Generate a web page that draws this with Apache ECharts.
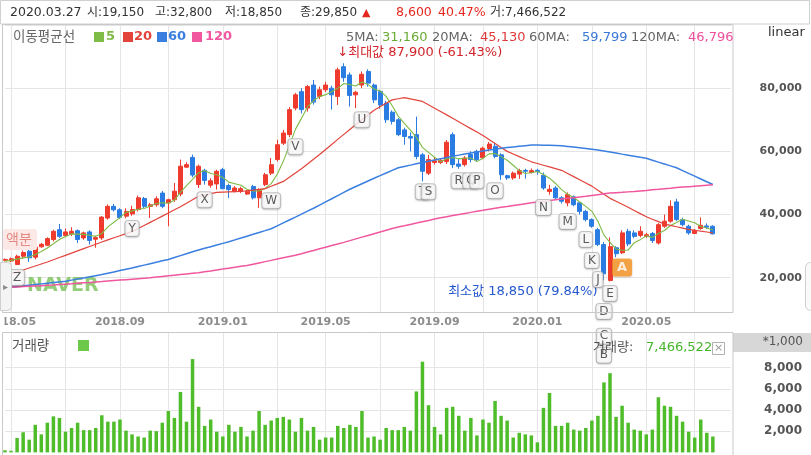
<!DOCTYPE html>
<html>
<head>
<meta charset="utf-8">
<title>NAVER 주봉</title>
<script src="https://cdn.jsdelivr.net/npm/echarts@6.0.0/dist/echarts.min.js"></script>
<style>
  html, body { margin: 0; padding: 0; background: #fff; }
  #main { width: 811px; height: 455px; }
</style>
</head>
<body>
<div id="main"></div>
<script>
// 주봉: 주 마지막 거래일
var dates = [
  '2018.04.27','2018.05.04','2018.05.11','2018.05.18','2018.05.25','2018.06.01','2018.06.08','2018.06.15','2018.06.22','2018.06.29',
  '2018.07.06','2018.07.13','2018.07.20','2018.07.27','2018.08.03','2018.08.10','2018.08.17','2018.08.24','2018.08.31','2018.09.07',
  '2018.09.14','2018.09.21','2018.09.28','2018.10.05','2018.10.12','2018.10.19','2018.10.26','2018.11.02','2018.11.09','2018.11.16',
  '2018.11.23','2018.11.30','2018.12.07','2018.12.14','2018.12.21','2018.12.28',
  '2019.01.04','2019.01.11','2019.01.18','2019.01.25','2019.02.01','2019.02.08','2019.02.15','2019.02.22','2019.02.28','2019.03.08',
  '2019.03.15','2019.03.22','2019.03.29','2019.04.05','2019.04.12','2019.04.19','2019.04.26','2019.05.03','2019.05.10','2019.05.17',
  '2019.05.24','2019.05.31','2019.06.07','2019.06.14','2019.06.21','2019.06.28','2019.07.05','2019.07.12','2019.07.19','2019.07.26',
  '2019.08.02','2019.08.09','2019.08.16','2019.08.23','2019.08.30','2019.09.06','2019.09.11','2019.09.20','2019.09.27','2019.10.04',
  '2019.10.11','2019.10.18','2019.10.25','2019.11.01','2019.11.08','2019.11.15','2019.11.22','2019.11.29','2019.12.06','2019.12.13',
  '2019.12.20','2019.12.27',
  '2020.01.03','2020.01.10','2020.01.17','2020.01.23','2020.01.31','2020.02.07','2020.02.14','2020.02.21','2020.02.28','2020.03.06',
  '2020.03.13','2020.03.20','2020.03.27','2020.04.03','2020.04.10','2020.04.17','2020.04.24','2020.04.29','2020.05.08','2020.05.15',
  '2020.05.22','2020.05.29','2020.06.05','2020.06.12','2020.06.19','2020.06.26','2020.07.03','2020.07.10','2020.07.17','2020.07.24'
];
var padDates = ['2020.07.31', '2020.08.07', '2020.08.14'];

var opens = [
  25500,25300,24200,26800,28400,26500,29800,30300,32100,35200,
  33400,33900,34900,32600,34500,32200,32600,38900,42600,41500,
  39500,40200,41600,45100,42600,43100,46800,43700,44700,46500,
  55000,58100,49500,54000,49300,49700,54200,49200,47400,47300,
  46500,48900,45300,49500,53100,57400,62600,65300,73700,78900,
  73700,81000,77400,79500,80000,77400,86800,84200,77900,81000,
  85300,81000,79000,75300,72400,70000,66800,64700,65300,58900,
  53100,56500,56500,56800,65300,56000,55800,59000,60000,58000,
  60900,61600,58900,52300,51600,52800,54000,53300,54000,52400,
  47300,48400,45300,43700,45600,43700,41000,38400,35200,30500,
  19150,29500,27900,34700,34200,33400,33100,34000,31000,36300,
  37900,44000,38400,36300,34000,35600,36400,36300
];
var closes = [
  25800,26000,26800,28000,26300,29700,30600,32400,34700,33100,
  34500,34700,32100,34200,31800,32700,39200,42600,41500,39100,
  41000,41600,45300,42600,43100,45000,42600,44700,47400,55300,
  55800,52500,55300,50800,50700,53700,48200,47900,48400,48200,
  47400,45300,47900,52600,55800,62100,65800,73200,77900,73200,
  80500,75600,79500,81000,77900,85800,83300,77700,78700,84400,
  81600,76300,74700,70000,69500,65300,64700,64200,58400,53700,
  57400,57000,57200,62900,55800,55300,57900,57400,57400,61000,
  62300,58400,52600,51600,53100,53900,53700,53900,53600,48400,
  48000,45300,44200,46300,43100,41000,38400,36300,30500,21250,
  29850,27600,34200,30700,33100,34700,33600,31800,36800,37900,
  42600,38400,36800,34200,35000,36600,36000,33900
];
var lows = [
  25200,24900,24000,26000,25000,25800,29500,30000,31500,32600,
  32800,33200,31000,32000,30500,29500,32000,38400,41000,38600,
  38800,39600,41000,42000,38900,42500,42000,36300,44000,45800,
  54800,51800,48400,49500,48500,47900,48000,45200,47000,46800,
  46200,44800,42100,49000,52500,56800,62000,64500,73000,72000,
  72600,74800,76500,78800,73200,74700,82000,74200,73700,80000,
  80500,75300,73500,69000,68500,64800,62100,60000,57500,50500,
  52500,55800,56000,56000,54700,54500,55200,56500,56800,57500,
  60000,57800,51000,51000,51000,51300,51400,53000,52600,47800,
  46300,44800,43500,42600,42600,40000,37800,35800,30000,19200,
  18850,26500,27500,30000,32500,32800,32600,31000,30500,35800,
  37400,38000,36300,33600,33900,35200,35500,33700
];
var highs = [
  26100,26400,27300,28600,28800,30000,31000,32800,35200,37000,
  35600,36000,35300,34600,35000,33300,39500,43200,43400,42000,
  42000,42800,46000,45600,43700,45800,47500,45000,50000,57400,
  56600,59000,55800,54500,51500,54200,54800,49800,49000,48800,
  47800,49400,48300,53200,57900,63700,66800,74000,78500,80000,
  81000,82600,80500,82000,80800,86500,87900,85000,79200,85300,
  86000,81500,79500,76000,73000,70500,67500,66000,71000,59500,
  58900,58100,57700,63600,66000,57600,58500,60000,60500,61500,
  63000,62700,59400,52600,53600,54500,54500,54600,54500,53300,
  49400,49000,45800,47000,46000,44000,41500,38800,35800,31300,
  32800,30000,35000,35500,35000,36300,34200,34500,37300,40000,
  44500,45000,39000,36800,35400,39100,37200,36600
];
// 거래량 (단위: 1,000주)
var volumes = [
  200,150,1360,1900,1200,2600,1700,2800,3400,3250,
  1950,2300,2800,2100,2100,2300,3500,2900,2900,3100,
  2050,1700,1500,1400,2050,2000,2800,3900,3250,5700,
  2900,8800,4300,2500,3100,1950,1500,2600,1950,2400,
  1500,2050,3900,2600,3000,3250,3350,3100,1950,3250,
  2050,2400,1200,1400,1400,2500,2300,2600,2400,3900,
  1400,1500,1200,2300,2100,2100,2400,2050,5750,8550,
  4450,2400,1700,4200,4300,3450,2050,3250,1600,3100,
  2800,4850,3450,3000,1400,1850,1700,1600,950,4200,
  5600,2500,2500,2800,2150,2050,2300,3000,3450,6600,
  7466.522,3350,4400,2800,2150,2050,1700,2150,5200,4400,
  4300,3450,2900,1950,1400,3100,1850,1500
];
var ma5 = [
  25200,25500,25900,26300,26580,27360,28280,29400,30740,32100,
  33060,33880,33820,33720,33460,33100,34000,36100,37560,39020,
  40680,41160,41700,41920,42720,43520,43720,43600,44560,47000,
  49160,51140,53260,53940,53020,52600,51740,50260,49780,49280,
  48020,47440,47440,48280,49800,52740,56840,61900,66960,70440,
  74120,76080,77340,77960,78900,79960,81500,81140,80680,81980,
  81140,79740,79140,77400,74420,71160,68840,66740,64420,61260,
  59680,58140,56740,57640,58060,57640,57820,57860,56760,57800,
  59200,59300,58340,57180,55600,53920,52980,53240,53640,52700,
  51520,49840,47900,46440,45380,43980,42600,41020,37860,33490,
  31160,29100,28680,28720,31090,32060,33260,32780,34000,34960,
  36540,37500,38500,37980,37400,36200,35720,35140
];
var ma20 = [
  20800,21300,21800,22440,23080,23720,24360,25000,25700,26400,
  27100,27800,28500,29200,29900,30600,31300,32000,32650,33300,
  33950,34600,35580,36550,37530,38500,39500,40500,41500,42500,
  43600,44700,45800,46200,46600,47000,47080,47150,47230,47300,
  47530,47750,47980,48200,48970,49730,50500,51830,53170,54500,
  56000,57500,59000,60600,62200,63800,65370,66930,68500,70000,
  71500,73000,74100,75200,76300,76650,77000,76600,76200,75800,
  74740,73680,72620,71560,70500,69400,68300,67200,66100,65000,
  63750,62500,61250,60000,59180,58350,57530,56700,56160,55620,
  55080,54540,54000,53000,52000,51000,50000,49000,47710,46420,
  45130,44190,43240,42300,41300,40300,39300,38530,37770,37000,
  36580,36150,35730,35300,35030,34750,34480,34200
];
var ma60 = [
  16800,17010,17220,17430,17640,17850,18060,18270,18480,18690,
  18900,19250,19600,19950,20300,20650,21000,21420,21840,22260,
  22680,23100,23550,24000,24450,24900,25350,25800,26400,27000,
  27600,28200,28800,29320,29840,30360,30880,31400,31990,32570,
  33160,33740,34330,34910,35500,36430,37360,38290,39210,40140,
  41070,42000,43000,44000,45000,46000,47000,48000,48880,49750,
  50630,51500,52330,53150,53980,54800,55230,55650,56080,56500,
  56890,57270,57660,58040,58430,58810,59200,59500,59800,60100,
  60400,60700,61000,61200,61400,61600,61800,62000,62000,61950,
  61900,61850,61800,61580,61360,61140,60920,60700,60400,60100,
  59799,59470,59130,58800,58470,58130,57800,57200,56600,56000,
  55400,54800,53920,53030,52150,51270,50380,49500
];
var ma120 = [
  16900,17000,17100,17200,17300,17400,17500,17600,17700,17840,
  17980,18110,18250,18390,18520,18660,18800,18950,19100,19250,
  19400,19550,19700,19850,20000,20200,20400,20600,20800,21000,
  21200,21400,21600,21890,22170,22460,22740,23030,23320,23610,
  23900,24300,24700,25100,25500,25900,26300,26700,27100,27610,
  28130,28640,29150,29660,30180,30690,31200,31750,32300,32850,
  33400,33950,34500,35050,35600,36030,36450,36880,37300,37730,
  38150,38580,39000,39340,39680,40010,40350,40690,41030,41360,
  41700,41990,42280,42560,42850,43140,43430,43710,44000,44230,
  44450,44680,44900,45130,45350,45580,45800,46050,46300,46550,
  46796,46930,47050,47180,47300,47480,47650,47830,48000,48180,
  48350,48530,48700,48840,48980,49120,49260,49400
];
// 이벤트 표시 (주 번호, 세로 위치 가격, 글자)
var markerIdx   = [2, 21, 33, 44, 48, 59, 69, 70, 75, 77, 78, 81, 89, 93, 96, 97, 98, 100, 99, 99, 99, 102];
var markerPrice = [20090, 35570, 44700, 44400, 61450, 70000, 47250, 47250, 50700, 50700, 50700, 47570,
                   42200, 37780, 32090, 25460, 19460, 15040, 9350, 1460, -4540, 23250];
var markerText  = ['Z','Y','X','W','V','U','T','S','R','Q','P','O','N','M','L','K','J','E','D','C','B','A'];

var focusDate = '2020.03.27';

var FONT = '"DejaVu Sans", "Noto Sans CJK KR", sans-serif';
var GRID_C = '#e5e5e5';

function fmt(n) {
  return Math.round(n).toString().replace(/\B(?=(\d{3})+(?!\d))/g, ',');
}
function txt(x, y, s, color, size, weight, align, z) {
  return {
    type: 'text', x: x, y: y, z: z || 100, silent: true,
    style: {
      text: s, fill: color, font: (weight || 'normal') + ' ' + size + 'px ' + FONT,
      textAlign: align || 'left', textVerticalAlign: 'middle',
      align: align || 'left', verticalAlign: 'middle'
    }
  };
}
function box(x, y, w, h, fill, stroke, z, r) {
  return {
    type: 'rect', z: z || 50, silent: true,
    shape: { x: x, y: y, width: w, height: h, r: r || 0 },
    style: { fill: fill, stroke: stroke, lineWidth: 1 }
  };
}

var allDates = dates.concat(padDates);
var candleData = dates.map(function (d, i) { return [opens[i], closes[i], lows[i], highs[i]]; });

function isMonthStart(i) {
  return i > 0 && allDates[i].slice(0, 7) !== allDates[i - 1].slice(0, 7);
}
function monthOf(i) { return +allDates[i].slice(5, 7); }
function gridInterval(i) { return isMonthStart(i) && monthOf(i) % 2 === 1; }
function labelInterval(i) { return isMonthStart(i) && (monthOf(i) - 1) % 4 === 0; }

var f = dates.indexOf(focusDate);
var last = dates.length - 1;
var maxHigh = Math.max.apply(null, highs), maxIdx = highs.indexOf(maxHigh);
var minLow = Math.min.apply(null, lows), minIdx = lows.indexOf(minLow);
var chg = closes[f] - closes[f - 1];
var chgPct = (chg / closes[f - 1] * 100).toFixed(2);
var maxPct = ((closes[last] - maxHigh) / maxHigh * 100).toFixed(2);
var minPct = ((closes[last] - minLow) / minLow * 100).toFixed(2);

var C5 = '#7fbb47', C20 = '#e2433a', C60 = '#3a7fe0', C120 = '#f0579f';
var UP = '#ee3b2d', DOWN = '#2b7ce2', VOL = '#4fbd2a';

var graphics = [
  // 틀
  box(0.5, 0.5, 809, 23.5, '#fff', '#d0d0d0', 1),
  box(2.5, 24.5, 730.5, 288, 'rgba(0,0,0,0)', '#c9c9c9', 50),
  box(2.5, 332.5, 730.5, 124, 'rgba(0,0,0,0)', '#c9c9c9', 50),
  box(0, 313, 4.5, 19, '#fff', null, 60),
  // 좌우 탭
  box(0.5, 262.5, 11, 48, '#f4f4f4', '#cfcfcf', 55, [0, 4, 4, 0]),
  txt(3, 287, '▸', '#8a8a8a', 10, 'normal', 'left', 56),
  box(805.5, 262.5, 12, 48, '#fafafa', '#cfcfcf', 55, 5),
  // 머리줄
  txt(10, 13, focusDate, '#333', 12.5),
  txt(87, 13, '시:' + fmt(opens[f]), '#333', 12),
  txt(155, 13, '고:' + fmt(highs[f]), '#333', 12),
  txt(225, 13, '저:' + fmt(lows[f]), '#333', 12),
  txt(300, 13, '종:' + fmt(closes[f]), '#333', 12),
  txt(362, 13, '▲', '#e5281e', 11),
  txt(396, 13, fmt(chg), '#e5281e', 12.5),
  txt(438, 13, chgPct + '%', '#e5281e', 12.5),
  txt(490, 13, '거:' + fmt(volumes[f] * 1000), '#333', 12),
  // 이동평균선 범례
  txt(13, 37, '이동평균선', '#666', 13.5),
  box(94, 32, 10, 10, C5, null, 100),
  txt(106, 37, '5', C5, 13, 'bold'),
  box(123, 32, 10, 10, C20, null, 100),
  txt(134, 37, '20', C20, 13, 'bold'),
  box(157, 32, 10, 10, C60, null, 100),
  txt(168, 37, '60', C60, 13, 'bold'),
  box(192, 32, 10, 10, C120, null, 100),
  txt(205, 37, '120', C120, 13, 'bold'),
  txt(346, 38, '5MA:', '#666', 13),
  txt(382, 38, fmt(ma5[f]), '#6aab35', 13),
  txt(432, 38, '20MA:', '#666', 13),
  txt(480, 38, fmt(ma20[f]), '#df3a3a', 13),
  txt(529, 38, '60MA:', '#666', 13),
  txt(582, 38, fmt(ma60[f]), '#3a78d8', 13),
  txt(631, 38, '120MA:', '#666', 13),
  txt(688, 38, fmt(ma120[f]), '#ef4f9a', 13),
  txt(768, 33, 'linear', '#333', 13),
  // 액분 / 워터마크
  box(3, 229, 34, 21, '#fce9e7', null, 40, 2),
  txt(6, 240, '액분', '#e48a82', 14, 'normal', 'left', 41),
  txt(27, 286, 'NAVER', 'rgba(112,190,78,0.75)', 19, 'bold', 'left', 1),
  // 거래량 패널
  txt(12, 346, '거래량', '#555', 13.5),
  box(78, 340, 11, 11, '#6cc94a', null, 100),
  box(733, 333, 78, 19, '#d7d7d7', null, 40),
  txt(803, 342, '*1,000', '#555', 12, 'normal', 'right'),
  txt(593, 348, '거래량:', '#555', 13),
  txt(646, 348, fmt(volumes[f] * 1000), '#44b52a', 13),
  box(712.5, 342.5, 12, 12, '#fff', '#b0b0b0', 100),
  txt(718.5, 348, '×', '#999', 11, 'normal', 'center', 101)
];

var markerData = markerIdx.map(function (k, j) {
  var item = { value: [k, markerPrice[j]] };
  if (markerText[j] === 'A') {
    item.label = { backgroundColor: '#f7941e', color: '#fff', fontWeight: 'bold',
                   borderWidth: 0, padding: [3, 5, 2, 5], fontSize: 13 };
  }
  return item;
});

var option = {
  animation: false,
  backgroundColor: '#fff',
  textStyle: { fontFamily: FONT },
  grid: [
    { left: 5, right: 80, top: 25, bottom: 142.5, outerBoundsMode: 'none', containLabel: false },
    { left: 5, right: 80, top: 332, bottom: 2.6, outerBoundsMode: 'none', containLabel: false }
  ],
  xAxis: [
    {
      type: 'category', gridIndex: 0, data: allDates, boundaryGap: false,
      axisLine: { show: false }, axisTick: { show: false },
      axisLabel: {
        interval: labelInterval, formatter: function (v) { return v.slice(0, 7); },
        color: '#8c8c8c', fontSize: 11, fontWeight: 'bold', fontFamily: 'DejaVu Sans',
        margin: 4, hideOverlap: false
      },
      splitLine: { show: true, interval: gridInterval, lineStyle: { color: GRID_C, width: 1 } }
    },
    {
      type: 'category', gridIndex: 1, data: allDates, boundaryGap: false,
      axisLine: { show: false }, axisTick: { show: false }, axisLabel: { show: false },
      splitLine: { show: true, interval: gridInterval, lineStyle: { color: GRID_C, width: 1 } }
    }
  ],
  yAxis: [
    {
      type: 'value', gridIndex: 0, position: 'right', min: 9000, max: 100000,
      minInterval: 20000, maxInterval: 20000, splitNumber: 5, scale: true,
      axisLine: { show: false }, axisTick: { show: false },
      axisLabel: {
        formatter: fmt, color: '#555', fontSize: 11, fontWeight: 'bold', fontFamily: 'DejaVu Sans',
        align: 'right', margin: 71, showMinLabel: false, showMaxLabel: false
      },
      splitLine: { show: true, lineStyle: { color: GRID_C, width: 1 } }
    },
    {
      type: 'value', gridIndex: 1, position: 'right', min: 0, max: 11350, interval: 2000,
      axisLine: { show: false }, axisTick: { show: false },
      axisLabel: {
        formatter: function (v) { return v >= 2000 && v <= 8000 ? fmt(v) : ''; },
        color: '#555', fontSize: 12, fontWeight: 'bold', fontFamily: 'DejaVu Sans',
        align: 'right', margin: 71, showMinLabel: false, showMaxLabel: false
      },
      splitLine: {
        show: true, showMinLine: false, showMaxLine: false,
        lineStyle: { color: [GRID_C, GRID_C, GRID_C, GRID_C, 'rgba(0,0,0,0)'], width: 1 }
      }
    }
  ],
  series: [
    {
      name: 'NAVER', type: 'candlestick', xAxisIndex: 0, yAxisIndex: 0,
      data: candleData, barWidth: 4.5,
      itemStyle: { color: UP, color0: DOWN, borderColor: UP, borderColor0: DOWN, borderWidth: 1 },
      markPoint: {
        symbol: 'circle', symbolSize: 1, itemStyle: { color: 'rgba(0,0,0,0)' }, silent: true,
        data: [
          {
            coord: [allDates[maxIdx], maxHigh],
            label: {
              show: true, formatter: '↓최대값 ' + fmt(maxHigh) + ' (' + maxPct + '%)',
              position: [-6, -10], align: 'left', verticalAlign: 'middle',
              color: '#d2232a', fontSize: 13, fontFamily: FONT
            }
          },
          {
            coord: [allDates[minIdx], minLow],
            label: {
              show: true, formatter: '최소값 ' + fmt(minLow) + ' (' + minPct + '%)',
              position: [-12, 11], align: 'right', verticalAlign: 'middle',
              color: '#2456cf', fontSize: 13, fontFamily: FONT
            }
          }
        ]
      }
    },
    { name: '5', type: 'line', data: ma5, symbol: 'none', showSymbol: false, silent: true,
      lineStyle: { color: C5, width: 1.1 }, itemStyle: { color: C5 }, z: 3 },
    { name: '20', type: 'line', data: ma20, symbol: 'none', showSymbol: false, silent: true,
      lineStyle: { color: C20, width: 1.2 }, itemStyle: { color: C20 }, z: 3 },
    { name: '60', type: 'line', data: ma60, symbol: 'none', showSymbol: false, silent: true,
      lineStyle: { color: C60, width: 1.5 }, itemStyle: { color: C60 }, z: 3 },
    { name: '120', type: 'line', data: ma120, symbol: 'none', showSymbol: false, silent: true,
      lineStyle: { color: C120, width: 1.5 }, itemStyle: { color: C120 }, z: 3 },
    {
      name: '거래량', type: 'bar', xAxisIndex: 1, yAxisIndex: 1, data: volumes,
      barWidth: 3.5, itemStyle: { color: VOL }, silent: true
    },
    {
      name: 'events', type: 'scatter', xAxisIndex: 0, yAxisIndex: 0, clip: false,
      symbol: 'circle', symbolSize: 1, itemStyle: { color: 'rgba(0,0,0,0)' }, z: 10, silent: true,
      data: markerData,
      label: {
        show: true, position: 'inside',
        formatter: function (p) { return markerText[p.dataIndex]; },
        color: '#333', fontSize: 12, fontFamily: 'DejaVu Sans',
        backgroundColor: '#fff', borderColor: '#b8b8b8', borderWidth: 1, borderRadius: 3,
        padding: [2, 3, 1, 3], shadowColor: 'rgba(0,0,0,0.18)', shadowBlur: 2, shadowOffsetY: 1
      }
    }
  ],
  graphic: graphics
};

var chart = echarts.init(document.getElementById('main'), null, { renderer: 'canvas' });
chart.setOption(option);
</script>
</body>
</html>
